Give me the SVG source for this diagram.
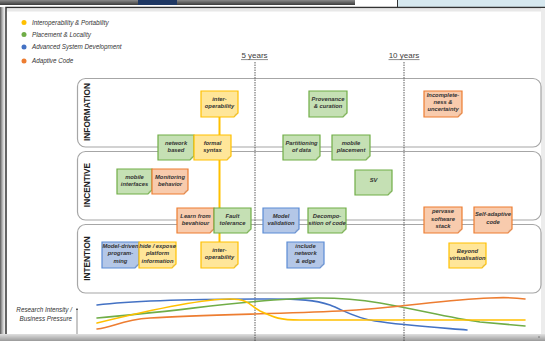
<svg xmlns="http://www.w3.org/2000/svg" width="545" height="341" viewBox="0 0 545 341">
<defs>
<linearGradient id="topbar" x1="0" y1="0" x2="0" y2="1"><stop offset="0" stop-color="#8a8a8a"/><stop offset="1" stop-color="#3a3a3a"/></linearGradient>
<linearGradient id="botbar" x1="0" y1="0" x2="0" y2="1"><stop offset="0" stop-color="#e0e0e0"/><stop offset="1" stop-color="#9a9a9a"/></linearGradient>
<linearGradient id="leftbar" x1="0" y1="0" x2="1" y2="0"><stop offset="0" stop-color="#555"/><stop offset="1" stop-color="#fff" stop-opacity="0"/></linearGradient>
<marker id="axarrow" markerWidth="4" markerHeight="4" refX="2" refY="2" orient="auto"><path d="M0,0 L4,2 L0,4 Z" fill="#444"/></marker>
</defs>
<style>
.legend{font-family:"Liberation Sans",Arial,sans-serif;font-style:italic;font-size:6.3px;fill:#333}
.years{font-family:"Liberation Sans",Arial,sans-serif;font-size:8px;fill:#404040;text-anchor:middle}
.lane{fill:#fff;stroke:#a6a6a6;stroke-width:1.2}
.lanelabel{font-family:"Liberation Sans",Arial,sans-serif;font-weight:bold;font-size:8.3px;fill:#222;text-anchor:middle}
.nt{font-family:"Liberation Sans",Arial,sans-serif;font-weight:bold;font-style:italic;font-size:5.8px;fill:#333;text-anchor:middle}
.y .b{fill:#FFE699;stroke:#FFC000}
.g .b{fill:#C5E0B4;stroke:#70AD47}
.o .b{fill:#F8CBAD;stroke:#ED7D31}
.u .b{fill:#B4C7E7;stroke:#5B8BD5}
.b{stroke-width:1.2}
.y .f{fill:#E6C560}.g .f{fill:#9DC27F}.o .f{fill:#D9A27F}.u .f{fill:#8FA7D0}
.conn{stroke:#FFC000;stroke-width:2;fill:none}
.dash{stroke:#333;stroke-width:0.8;stroke-dasharray:1.5 1}
.curve{fill:none;stroke-width:1.6;stroke-linecap:round}
</style>
<rect x="0" y="0" width="545" height="341" fill="#fff"/>
<!-- screen frame -->
<rect x="0" y="0" width="355" height="5" fill="url(#topbar)"/>
<rect x="138" y="0" width="39" height="5" fill="#1F3864"/>
<rect x="397" y="0" width="148" height="7" fill="#D6E8EF"/>
<line x1="397.5" y1="0" x2="397.5" y2="7" stroke="#333" stroke-width="1"/>
<rect x="0" y="7" width="7" height="334" fill="url(#leftbar)"/>
<rect x="6" y="7.5" width="545" height="330" fill="#fff" stroke="#333" stroke-width="1.5"/>
<rect x="7" y="8.5" width="538" height="3" fill="#e8e8e8"/>
<rect x="0" y="334" width="545" height="7" fill="url(#botbar)"/>
<rect x="538.5" y="336.5" width="1" height="1" fill="#333"/>
<rect x="541" y="8" width="4" height="326" fill="#ececec"/>

<!-- legend -->
<g id="legend">
<circle cx="24" cy="22.5" r="2.5" fill="#FFC000"/><text class="legend" x="32" y="24.7">Interoperability &amp; Portability</text>
<circle cx="24" cy="34.5" r="2.5" fill="#70AD47"/><text class="legend" x="32" y="36.7">Placement &amp; Locality</text>
<circle cx="24" cy="47" r="2.5" fill="#4472C4"/><text class="legend" x="32" y="49.2">Advanced System Development</text>
<circle cx="24" cy="61" r="2.5" fill="#ED7D31"/><text class="legend" x="32" y="63.2">Adaptive Code</text>
</g>

<!-- time markers -->
<g id="years">
<text class="years" x="254.5" y="58">5 years</text>
<line x1="241" y1="59.6" x2="268" y2="59.6" stroke="#404040" stroke-width="0.6"/>
<text class="years" x="404" y="58">10 years</text>
<line x1="388.5" y1="59.6" x2="419.5" y2="59.6" stroke="#404040" stroke-width="0.6"/>
</g>

<!-- lanes -->
<g id="lane-information"><rect class="lane" x="77.5" y="78.5" width="463.5" height="68.5" rx="8"/><text class="lanelabel" transform="translate(89.5,112) rotate(-90)">INFORMATION</text></g>
<g id="lane-incentive"><rect class="lane" x="77.5" y="151.5" width="463.5" height="68.5" rx="8"/><text class="lanelabel" transform="translate(89.5,185) rotate(-90)">INCENTIVE</text></g>
<g id="lane-intention"><rect class="lane" x="77.5" y="224.5" width="463.5" height="68.5" rx="8"/><text class="lanelabel" transform="translate(89.5,258.5) rotate(-90)">INTENTION</text></g>

<line class="dash" x1="255" y1="62" x2="255" y2="341"/>
<line class="dash" x1="404" y1="62" x2="404" y2="341"/>

<!-- connectors -->
<g id="connectors">
<line class="conn" x1="219.5" y1="117" x2="219.5" y2="135"/>
<line class="conn" x1="219.5" y1="160" x2="219.5" y2="208"/>
<line class="conn" x1="219.5" y1="233" x2="219.5" y2="242"/>
</g>

<!-- notes: INFORMATION -->
<g id="n-interop1" class="y" transform="translate(201,91)"><path class="b" d="M0,0H37V22L33,26H0Z"/><path class="f" d="M33,26L34,23L37,22Z"/><text class="nt" x="18.5" y="9.5">inter-</text><text class="nt" x="18.5" y="17">operability</text></g>
<g id="n-provenance" class="g" transform="translate(309,91)"><path class="b" d="M0,0H38V22L34,26H0Z"/><path class="f" d="M34,26L35,23L38,22Z"/><text class="nt" x="19" y="9.5">Provenance</text><text class="nt" x="19" y="17">&amp; curation</text></g>
<g id="n-incomplete" class="o" transform="translate(424,91)"><path class="b" d="M0,0H38V22L34,26H0Z"/><path class="f" d="M34,26L35,23L38,22Z"/><text class="nt" x="19" y="5.5">Incomplete-</text><text class="nt" x="19" y="12.5">ness &amp;</text><text class="nt" x="19" y="19.5">uncertainty</text></g>
<g id="n-network" class="g" transform="translate(158,135)"><path class="b" d="M0,0H36V21L32,25H0Z"/><path class="f" d="M32,25L33,22L36,21Z"/><text class="nt" x="18" y="9.5">network</text><text class="nt" x="18" y="17">based</text></g>
<g id="n-formal" class="y" transform="translate(194,135)"><path class="b" d="M0,0H37V21L33,25H0Z"/><path class="f" d="M33,25L34,22L37,21Z"/><text class="nt" x="18.5" y="9.5">formal</text><text class="nt" x="18.5" y="17">syntax</text></g>
<g id="n-partition" class="g" transform="translate(283,135)"><path class="b" d="M0,0H37V21L33,25H0Z"/><path class="f" d="M33,25L34,22L37,21Z"/><text class="nt" x="18.5" y="9.5">Partitioning</text><text class="nt" x="18.5" y="17">of data</text></g>
<g id="n-mobileplace" class="g" transform="translate(332,135)"><path class="b" d="M0,0H38V21L34,25H0Z"/><path class="f" d="M34,25L35,22L38,21Z"/><text class="nt" x="19" y="9.5">mobile</text><text class="nt" x="19" y="17">placement</text></g>

<!-- notes: INCENTIVE -->
<g id="n-mobileint" class="g" transform="translate(117,169)"><path class="b" d="M0,0H35V21L31,25H0Z"/><path class="f" d="M31,25L32,22L35,21Z"/><text class="nt" x="17.5" y="9.5">mobile</text><text class="nt" x="17.5" y="17">interfaces</text></g>
<g id="n-monitor" class="o" transform="translate(152,169)"><path class="b" d="M0,0H36V21L32,25H0Z"/><path class="f" d="M32,25L33,22L36,21Z"/><text class="nt" x="18" y="9.5">Monitoring</text><text class="nt" x="18" y="17">behavior</text></g>
<g id="n-sv" class="g" transform="translate(355,170)"><path class="b" d="M0,0H37V21L33,25H0Z"/><path class="f" d="M33,25L34,22L37,21Z"/><text class="nt" x="18.5" y="12">SV</text></g>
<g id="n-learn" class="o" transform="translate(177,208)"><path class="b" d="M0,0H37V21L33,25H0Z"/><path class="f" d="M33,25L34,22L37,21Z"/><text class="nt" x="18.5" y="9.5">Learn from</text><text class="nt" x="18.5" y="17">bevahiour</text></g>
<g id="n-fault" class="g" transform="translate(214,208)"><path class="b" d="M0,0H37V21L33,25H0Z"/><path class="f" d="M33,25L34,22L37,21Z"/><text class="nt" x="18.5" y="9.5">Fault</text><text class="nt" x="18.5" y="17">tolerance</text></g>
<g id="n-model" class="u" transform="translate(263,208)"><path class="b" d="M0,0H36V21L32,25H0Z"/><path class="f" d="M32,25L33,22L36,21Z"/><text class="nt" x="18" y="9.5">Model</text><text class="nt" x="18" y="17">validation</text></g>
<g id="n-decomp" class="g" transform="translate(308,208)"><path class="b" d="M0,0H38V21L34,25H0Z"/><path class="f" d="M34,25L35,22L38,21Z"/><text class="nt" x="19" y="9.5">Decompo-</text><text class="nt" x="19" y="17">sition of code</text></g>
<g id="n-pervase" class="o" transform="translate(424,207)"><path class="b" d="M0,0H38V22L34,26H0Z"/><path class="f" d="M34,26L35,23L38,22Z"/><text class="nt" x="19" y="6">pervase</text><text class="nt" x="19" y="13.5">software</text><text class="nt" x="19" y="21">stack</text></g>
<g id="n-selfadapt" class="o" transform="translate(474,207)"><path class="b" d="M0,0H38V22L34,26H0Z"/><path class="f" d="M34,26L35,23L38,22Z"/><text class="nt" x="19" y="9">Self-adaptive</text><text class="nt" x="19" y="16.5">code</text></g>

<!-- notes: INTENTION -->
<g id="n-mdd" class="u" transform="translate(102,242)"><path class="b" d="M0,0H37V22L33,26H0Z"/><path class="f" d="M33,26L34,23L37,22Z"/><text class="nt" x="18.5" y="5.5">Model-driven</text><text class="nt" x="18.5" y="13">program-</text><text class="nt" x="18.5" y="20.5">ming</text></g>
<g id="n-hide" class="y" transform="translate(139,242)"><path class="b" d="M0,0H37V22L33,26H0Z"/><path class="f" d="M33,26L34,23L37,22Z"/><text class="nt" x="18.5" y="5.5">hide / expose</text><text class="nt" x="18.5" y="13">platform</text><text class="nt" x="18.5" y="20.5">information</text></g>
<g id="n-interop2" class="y" transform="translate(201,242)"><path class="b" d="M0,0H37V22L33,26H0Z"/><path class="f" d="M33,26L34,23L37,22Z"/><text class="nt" x="18.5" y="9.5">inter-</text><text class="nt" x="18.5" y="17">operability</text></g>
<g id="n-include" class="u" transform="translate(287,242)"><path class="b" d="M0,0H37V22L33,26H0Z"/><path class="f" d="M33,26L34,23L37,22Z"/><text class="nt" x="18.5" y="5.5">include</text><text class="nt" x="18.5" y="13">network</text><text class="nt" x="18.5" y="20.5">&amp; edge</text></g>
<g id="n-beyond" class="y" transform="translate(449,243)"><path class="b" d="M0,0H37V21L33,25H0Z"/><path class="f" d="M33,25L34,22L37,21Z"/><text class="nt" x="18.5" y="9.5">Beyond</text><text class="nt" x="18.5" y="17">virtualisation</text></g>

<!-- bottom chart -->
<g id="chart">
<text class="legend" x="72" y="312" text-anchor="end">Research Intensity /</text>
<text class="legend" x="72" y="321" text-anchor="end">Business Pressure</text>
<line x1="77" y1="334" x2="77" y2="309" stroke="#444" stroke-width="0.6" marker-end="url(#axarrow)"/>
<path class="curve" stroke="#4472C4" d="M97,305 C130,301 200,299 270,299 C300,299 315,300 330,305 C345,311 355,318 375,321 C400,325 430,327 467,330"/>
<path class="curve" stroke="#70AD47" d="M97,318 C180,311 230,302 290,299 C320,297 350,298 380,303 C420,310 450,318 480,322 L525,326"/>
<path class="curve" stroke="#ED7D31" d="M97,329 C115,327 120,320 150,318 C200,315 270,314 340,311 C400,308 440,300 490,298 C510,297 518,298 525,299"/>
<path class="curve" stroke="#FFC000" d="M97,323 C150,310 200,299 230,299 C250,299 250,306 260,311 C275,318 280,320 300,320 L525,320"/>
</g>
</svg>
